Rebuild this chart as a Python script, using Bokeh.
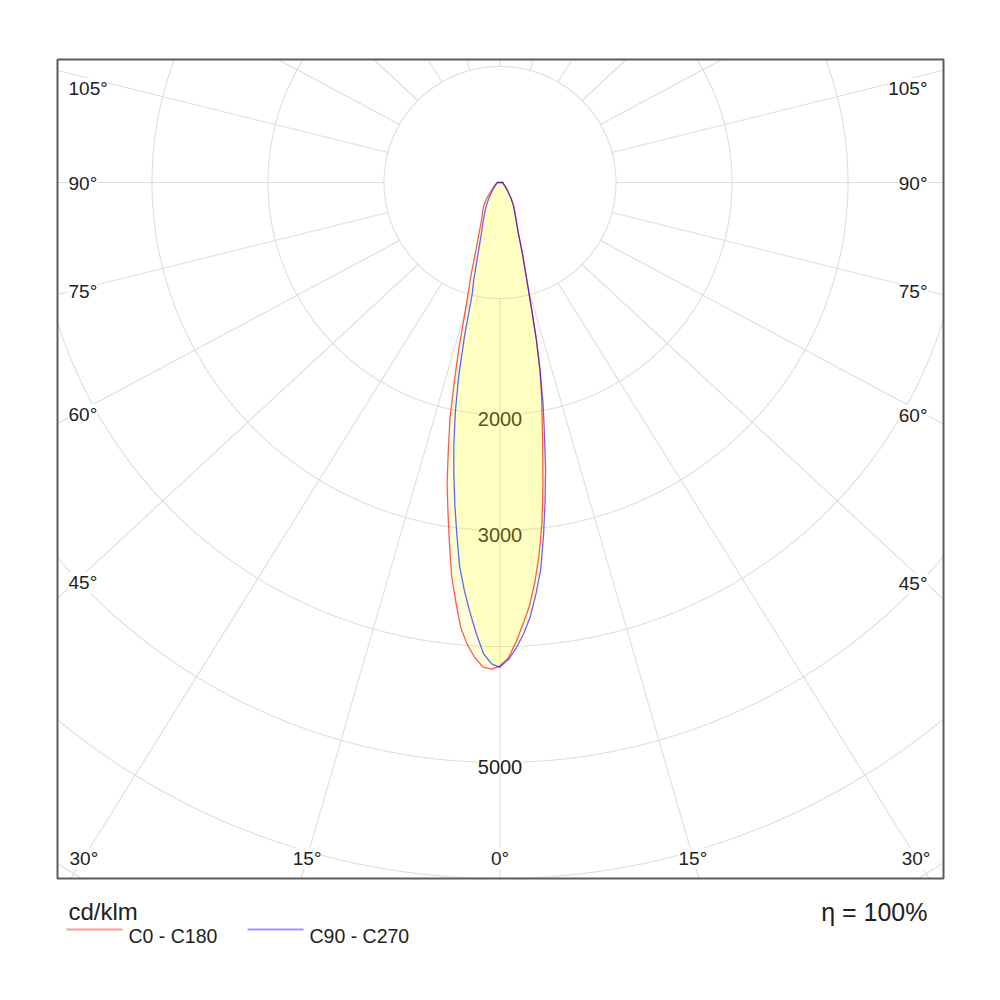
import numpy as np
from bokeh.plotting import figure
from bokeh.core.properties import value
from bokeh.embed import file_html
from bokeh.resources import INLINE

# ---------------- data (cd/klm) ----------------
GAMMA = [0, 1, 2, 3, 4, 5, 6, 7, 8, 9, 10, 11, 12, 13, 14, 15,
         17.5, 20, 22.5, 25, 30, 35, 40, 45, 50, 60, 70, 80, 90]
C0 = [4166, 4100, 3965, 3810, 3655, 3455, 3225, 2965, 2660, 2360, 2095, 1880, 1665, 1400, 1130, 930,
      640, 460, 375, 320, 235, 170, 115, 85, 65, 45, 32, 27, 26]
C180 = [4170, 4195, 4180, 4105, 4000, 3860, 3640, 3420, 3135, 2870, 2625, 2330, 2070, 1740, 1450, 1170,
        820, 590, 470, 390, 300, 245, 175, 120, 90, 55, 40, 30, 26]
C90 = [4175, 4115, 4015, 3895, 3750, 3560, 3355, 3075, 2790, 2510, 2210, 1945, 1660, 1400, 1130, 930,
       650, 460, 370, 310, 235, 165, 110, 80, 60, 40, 30, 26, 26]
C270 = [4180, 4150, 4065, 3895, 3715, 3530, 3330, 3055, 2800, 2545, 2290, 2020, 1720, 1360, 990, 880,
        615, 470, 390, 330, 240, 170, 115, 85, 62, 42, 31, 27, 26]

CIRCLES = [1000, 2000, 3000, 4000, 5000, 6000, 7000]
CIRCLE_LABELS = [2000, 3000, 5000]
RAY_ANGLES = list(range(0, 181, 15))
ANGLE_LABELS = [0, 15, 30, 45, 60, 75, 90, 105]
LEGEND_LABELS = ["C0 - C180", "C90 - C270"]
UNIT_TEXT = "cd/klm"
EFF_TEXT = "η = 100%"

# ---------------- layout ----------------
W, H = 990, 970
PX = 0.116               # pixels per cd/klm
CX, CY = 499.5, 182.0    # polar centre in canvas pixels
RAY_K = 0.93             # vertical squeeze of the angle rays (as in the reference)
FONT = value("Liberation Sans")
TXT = "#222222"


def X(px):
    return (px - CX) / PX


def Y(py):
    return (CY - py) / PX


LEFT, RIGHT, TOP, BOTTOM = X(57), X(943), Y(59), Y(878)

p = figure(width=W, height=H, x_range=(X(0), X(W)), y_range=(Y(H), Y(0)),
           output_backend="svg", toolbar_location=None,
           x_axis_location=None, y_axis_location=None,
           min_border=0, outline_line_color=None, background_fill_color="white")
p.xgrid.visible = False
p.ygrid.visible = False

GRID = "#dedede"

# circles clipped to the box
cx_list, cy_list = [], []
phi = np.linspace(0, 2 * np.pi, 6001)
for r in CIRCLES:
    x = r * np.cos(phi)
    y = r * np.sin(phi)
    inside = (x >= LEFT) & (x <= RIGHT) & (y >= BOTTOM) & (y <= TOP)
    start = None
    for i, ok in enumerate(inside):
        if ok and start is None:
            start = i
        if (not ok or i == len(inside) - 1) and start is not None:
            end = i if ok else i - 1
            if end > start:
                cx_list.append(list(x[start:end + 1]))
                cy_list.append(list(y[start:end + 1]))
            start = None
p.multi_line(cx_list, cy_list, line_color=GRID, line_width=1.1)

# rays from the inner circle out to the box


def ray(theta, side):
    t = np.radians(theta)
    p1 = np.array([side * CIRCLES[0] * np.sin(t), -CIRCLES[0] * np.cos(t)])
    p2 = np.array([side * 20000 * np.sin(t), -20000 * RAY_K * np.cos(t)])
    d = p2 - p1
    cands = []
    if d[0] > 1e-9:
        cands.append(((RIGHT - p1[0]) / d[0], "right"))
    if d[0] < -1e-9:
        cands.append(((LEFT - p1[0]) / d[0], "left"))
    if d[1] > 1e-9:
        cands.append(((TOP - p1[1]) / d[1], "top"))
    if d[1] < -1e-9:
        cands.append(((BOTTOM - p1[1]) / d[1], "bottom"))
    tt, edge = min(cands)
    return p1, d, p1 + tt * d, edge


rx, ry = [], []
for a in RAY_ANGLES:
    for side in ([1] if a in (0, 180) else [-1, 1]):
        p1, d, pe, edge = ray(a, side)
        rx.append([p1[0], pe[0]])
        ry.append([p1[1], pe[1]])
p.multi_line(rx, ry, line_color=GRID, line_width=1.1)

# intensity labels on the 0° ray
p.text(x=[0] * len(CIRCLE_LABELS), y=[-v - 4 / PX for v in CIRCLE_LABELS],
       text=[str(v) for v in CIRCLE_LABELS], text_font=FONT, text_font_size="20px",
       text_color=TXT, text_align="center", text_baseline="middle",
       background_fill_color="white")

# angle labels
groups = {"left": ([], [], []), "right": ([], [], []), "bottom": ([], [], [])}
for a in ANGLE_LABELS:
    for side in ([1] if a == 0 else [-1, 1]):
        p1, d, pe, edge = ray(a, side)
        if edge == "bottom":
            yl = BOTTOM + 21 / PX
            xl = p1[0] + (yl - p1[1]) / d[1] * d[0]
            g = groups["bottom"]
        elif edge == "left":
            xp = LEFT + 18 / PX
            yl = min(p1[1] + (xp - p1[0]) / d[0] * d[1], TOP - 28 / PX)
            xl = LEFT + 11 / PX
            g = groups["left"]
        else:
            xp = RIGHT - 18 / PX
            yl = min(p1[1] + (xp - p1[0]) / d[0] * d[1], TOP - 28 / PX)
            xl = RIGHT - 16 / PX
            g = groups["right"]
        g[0].append(xl)
        g[1].append(yl - 1 / PX)
        g[2].append(f"{a}°")
for key, align in (("left", "left"), ("right", "right"), ("bottom", "center")):
    gx, gy, gt = groups[key]
    p.text(x=gx, y=gy, text=gt, text_font=FONT, text_font_size="19px", text_color=TXT,
           text_align=align, text_baseline="middle", background_fill_color="white")

# photometric curves


def curve(left_vals, right_vals):
    g = np.radians(GAMMA)
    lv = np.array(left_vals, float)
    rv = np.array(right_vals, float)
    xs = list(-(lv * np.sin(g))[::-1]) + list(rv * np.sin(g))
    ys = list(-(lv * np.cos(g))[::-1]) + list(-rv * np.cos(g))
    return xs, ys


xa, ya = curve(C180, C0)
xb, yb = curve(C270, C90)
p.patch(xa, ya, fill_color="#ffff00", fill_alpha=0.13, line_color=None)
p.patch(xb, yb, fill_color="#ffff00", fill_alpha=0.13, line_color=None)
p.line(xa + xa[:1], ya + ya[:1], line_color="#ff0000", line_alpha=0.65, line_width=1.3)
p.line(xb + xb[:1], yb + yb[:1], line_color="#0000ff", line_alpha=0.6, line_width=1.3)

# frame box
p.quad(left=[LEFT], right=[RIGHT], top=[TOP], bottom=[BOTTOM], fill_color=None,
       line_color="#5c5c5c", line_width=2)

# texts below the frame
p.text(x=[X(68)], y=[Y(911)], text=[UNIT_TEXT], text_font=FONT, text_font_size="24px",
       text_color=TXT, text_align="left", text_baseline="alphabetic")
p.text(x=[X(927)], y=[Y(911)], text=[EFF_TEXT], text_font=FONT, text_font_size="25px",
       text_color=TXT, text_align="right", text_baseline="alphabetic")

# legend
leg_colors = ["#ff0000", "#0000ff"]
leg_x0 = [66, 247]
for lab, col, x0 in zip(LEGEND_LABELS, leg_colors, leg_x0):
    p.line([X(x0), X(x0 + 56)], [Y(929), Y(929)], line_color=col, line_alpha=0.4, line_width=2)
    p.text(x=[X(x0 + 62)], y=[Y(935)], text=[lab], text_font=FONT, text_font_size="19.5px",
           text_color=TXT, text_align="left", text_baseline="alphabetic")

open("out.html", "w").write(file_html(p, INLINE))
